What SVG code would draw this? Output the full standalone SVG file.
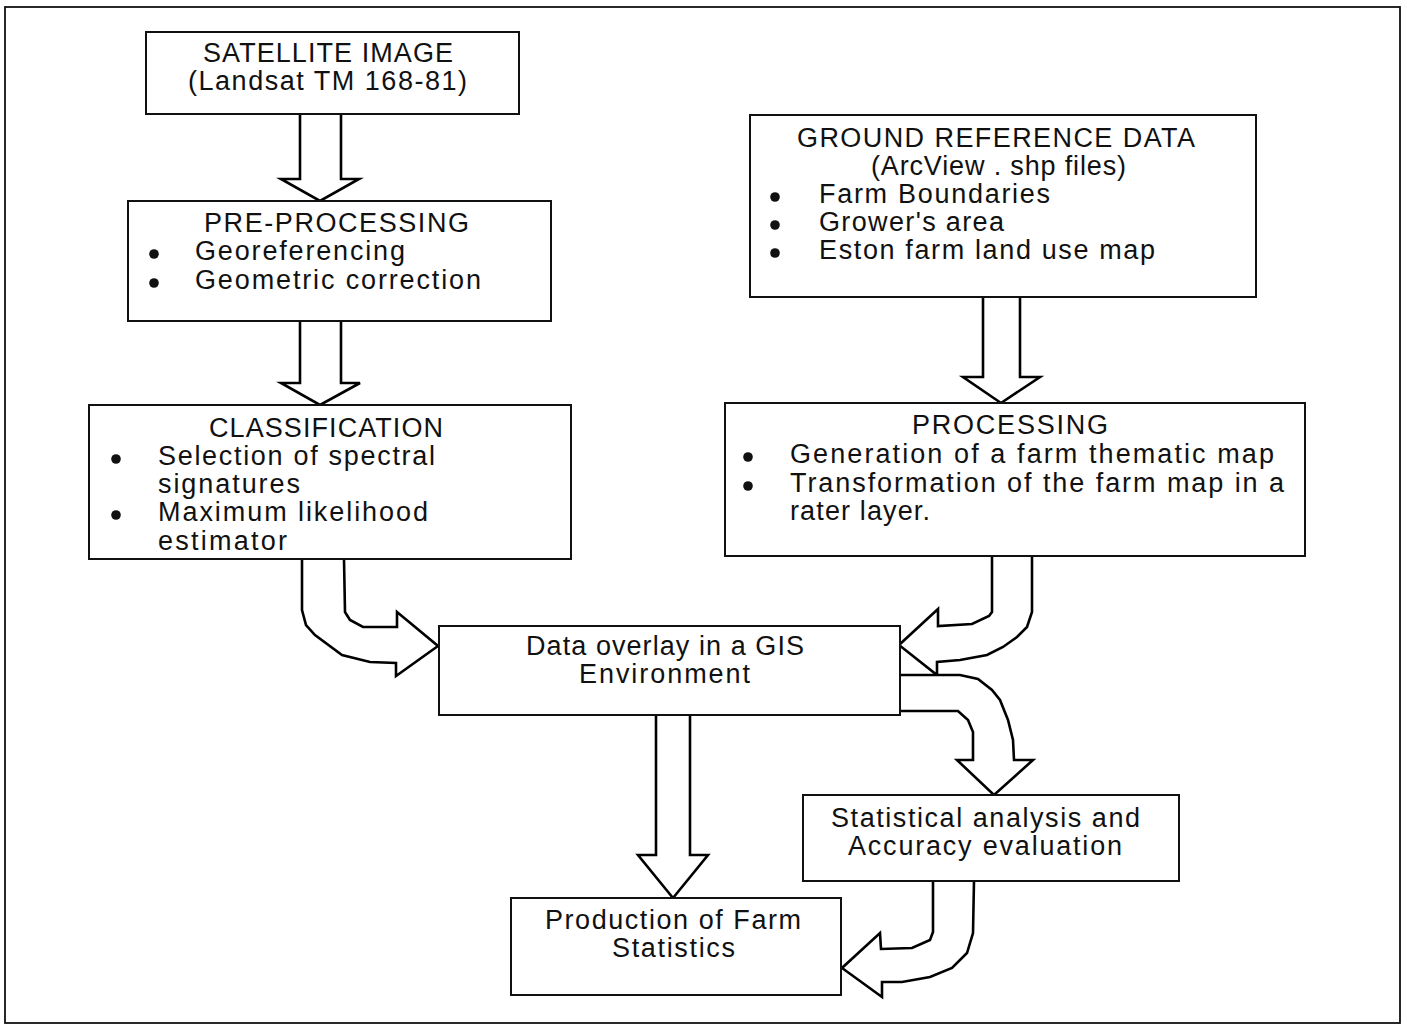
<svg xmlns="http://www.w3.org/2000/svg" width="1407" height="1025" viewBox="0 0 1407 1025">
<style>
.frame{fill:none;stroke:#111;stroke-width:1.8}
.box{fill:#fff;stroke:#111;stroke-width:2}
.arr{fill:#fff;stroke:#000;stroke-width:2.6;stroke-linejoin:miter}
text{font-family:"Liberation Sans",Arial,sans-serif;font-size:27px;fill:#111}
.b{fill:#111}
</style>
<rect width="1407" height="1025" fill="#fff"/>
<rect class="frame" x="5" y="7" width="1395" height="1016"/>
<g id="connectors">
<path class="arr" d="M300,114 L300,179 L281,179 L320,201 L359,179 L341,179 L341,114"/>
<path class="arr" d="M300,321 L300,383 L281,383 L320,405 L360,383 L341,383 L341,321"/>
<path class="arr" d="M983,297 L983,377 L963,377 L1001,403 L1040,377 L1020,377 L1020,297"/>
<path class="arr" d="M656,715 L656,855 L638,855 L673,898 L708,855 L690,855 L690,715"/>
<path class="arr" d="M302,559 L302,610 L306,625 L315,635 L342,655 L370,662 L396,663 L396,676 L438,646 L397,612 L397,627 L363,627 L350,620 L345,612 L344,559"/>
<path class="arr" d="M992,556 L992,612 L989,616 L972,624 L938,626 L938,609 L899,645 L937,675 L937,662 L960,660 L987,655 L1003,647 L1017,637 L1027,627 L1032,612 L1032,556"/>
<path class="arr" d="M900,675 L960,675 L978,679 L992,690 L1000,700 L1008,720 L1013,740 L1014,760 L1033,760 L994,795 L957,760 L973,760 L973,732 L968,720 L958,711 L900,711"/>
<path class="arr" d="M933,881 L933,932 L930,940 L912,948 L881,949 L880,933 L842,968 L882,997 L882,982 L902,982 L930,977 L952,968 L967,953 L973,933 L974,881"/>
</g>
<g id="satellite">
<rect class="box" x="146" y="32" width="373" height="82"/>
<text x="203" y="62" textLength="250" lengthAdjust="spacing">SATELLITE IMAGE</text>
<text x="188" y="90" textLength="279" lengthAdjust="spacing">(Landsat TM 168-81)</text>
</g>
<g id="preprocessing">
<rect class="box" x="128" y="201" width="423" height="120"/>
<text x="204" y="232" textLength="265" lengthAdjust="spacing">PRE-PROCESSING</text>
<circle class="b" cx="154" cy="254" r="4.8"/>
<text x="195" y="260" textLength="210" lengthAdjust="spacing">Georeferencing</text>
<circle class="b" cx="154" cy="283" r="4.8"/>
<text x="195" y="289" textLength="286" lengthAdjust="spacing">Geometric correction</text>
</g>
<g id="classification">
<rect class="box" x="89" y="405" width="482" height="154"/>
<text x="209" y="437" textLength="234" lengthAdjust="spacing">CLASSIFICATION</text>
<circle class="b" cx="116" cy="459" r="4.8"/>
<text x="158" y="465" textLength="277" lengthAdjust="spacing">Selection of spectral</text>
<text x="158" y="493" textLength="142" lengthAdjust="spacing">signatures</text>
<circle class="b" cx="116" cy="515" r="4.8"/>
<text x="158" y="521" textLength="270" lengthAdjust="spacing">Maximum likelihood</text>
<text x="158" y="550" textLength="129" lengthAdjust="spacing">estimator</text>
</g>
<g id="ground">
<rect class="box" x="750" y="115" width="506" height="182"/>
<text x="797" y="147" textLength="398" lengthAdjust="spacing">GROUND REFERENCE DATA</text>
<text x="871" y="175" textLength="255" lengthAdjust="spacing">(ArcView . shp files)</text>
<circle class="b" cx="775" cy="197" r="4.8"/>
<text x="819" y="203" textLength="231" lengthAdjust="spacing">Farm Boundaries</text>
<circle class="b" cx="775" cy="225" r="4.8"/>
<text x="819" y="231" textLength="185" lengthAdjust="spacing">Grower's area</text>
<circle class="b" cx="775" cy="253" r="4.8"/>
<text x="819" y="259" textLength="336" lengthAdjust="spacing">Eston farm land use map</text>
</g>
<g id="processing">
<rect class="box" x="725" y="403" width="580" height="153"/>
<text x="912" y="434" textLength="196" lengthAdjust="spacing">PROCESSING</text>
<circle class="b" cx="748" cy="457" r="4.8"/>
<text x="790" y="463" textLength="484" lengthAdjust="spacing">Generation of a farm thematic map</text>
<circle class="b" cx="748" cy="486" r="4.8"/>
<text x="790" y="492" textLength="494" lengthAdjust="spacing">Transformation of the farm map in a</text>
<text x="790" y="520" textLength="140" lengthAdjust="spacing">rater layer.</text>
</g>
<g id="overlay">
<rect class="box" x="439" y="626" width="461" height="89"/>
<text x="526" y="655" textLength="278" lengthAdjust="spacing">Data overlay in a GIS</text>
<text x="579" y="683" textLength="171" lengthAdjust="spacing">Environment</text>
</g>
<g id="statistical">
<rect class="box" x="803" y="795" width="376" height="86"/>
<text x="831" y="827" textLength="309" lengthAdjust="spacing">Statistical analysis and</text>
<text x="848" y="855" textLength="274" lengthAdjust="spacing">Accuracy evaluation</text>
</g>
<g id="production">
<rect class="box" x="511" y="898" width="330" height="97"/>
<text x="545" y="929" textLength="256" lengthAdjust="spacing">Production of Farm</text>
<text x="612" y="957" textLength="123" lengthAdjust="spacing">Statistics</text>
</g>
</svg>
